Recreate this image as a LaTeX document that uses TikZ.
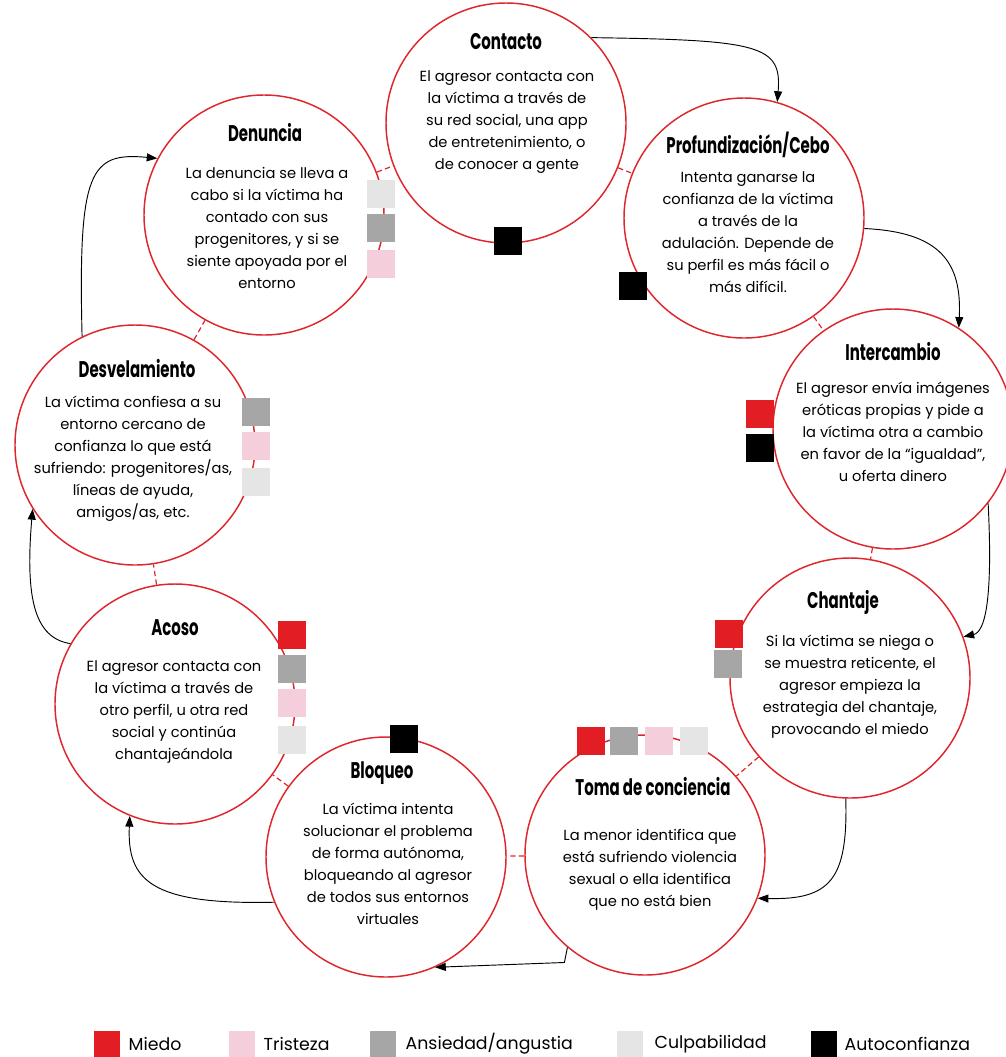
\documentclass[tikz,border=0pt]{standalone}
\usepackage{fontspec}
\setmainfont{Poppins}
\newfontfamily\titlefont{Poppins}[FakeStretch=0.66]
\usetikzlibrary{arrows.meta,positioning}
\definecolor{ringred}{RGB}{222,38,44}
\definecolor{cmiedo}{RGB}{226,30,36}
\definecolor{ctristeza}{RGB}{245,206,220}
\definecolor{cansiedad}{RGB}{166,166,166}
\definecolor{cculpa}{RGB}{229,229,229}
\definecolor{cauto}{RGB}{0,0,0}

\begin{document}
\begin{tikzpicture}[x=0.75pt, y=-0.75pt,
  stage/.style={circle, draw=ringred, line width=1.1pt, fill=white, minimum size=180pt, inner sep=0pt},
  title/.style={font=\titlefont\bfseries\fontsize{17}{20}\selectfont},
  body/.style={align=center, font=\fontsize{11}{16.5}\selectfont},
  emo/.style={minimum size=21pt, inner sep=0pt},
  miedo/.style={emo, fill=cmiedo},
  tristeza/.style={emo, fill=ctristeza},
  ansiedad/.style={emo, fill=cansiedad},
  culpa/.style={emo, fill=cculpa},
  auto/.style={emo, fill=cauto},
  link/.style={draw=ringred, line width=0.9pt, dash pattern=on 4pt off 2.5pt},
  flow/.style={draw=black, line width=0.7pt, -{Triangle[length=8pt,width=6pt]}},
  legsq/.style={minimum size=19pt, inner sep=0pt},
  legtxt/.style={anchor=west, font=\fontsize{13}{15}\selectfont}]
  \useasboundingbox (0,0) rectangle (1006,1057);

  % stages
  \node[stage] (contacto) at (506,123) {};
  \node[stage] (cebo) at (744,218) {};
  \node[stage] (inter) at (893,429) {};
  \node[stage] (chantaje) at (850,678) {};
  \node[stage] (toma) at (645,855) {};
  \node[stage] (bloqueo) at (386,857) {};
  \node[stage] (acoso) at (175,704) {};
  \node[stage] (desvel) at (135,445) {};
  \node[stage] (denuncia) at (264,215) {};

  % dashed links
  \draw[link] (contacto) -- (cebo);
  \draw[link] (cebo) -- (inter);
  \draw[link] (inter) -- (chantaje);
  \draw[link] (chantaje) -- (toma);
  \draw[link] (toma) -- (bloqueo);
  \draw[link] (bloqueo) -- (acoso);
  \draw[link] (acoso) -- (desvel);
  \draw[link] (desvel) -- (denuncia);
  \draw[link] (denuncia) -- (contacto);

  % texts
  \node[title] (contacto-t) at (506,42) {Contacto};
  \node[body] (contacto-x) at (507,122) {El agresor contacta con\\la víctima a través de\\su red social, una app\\de entretenimiento, o\\de conocer a gente};
  \node[title] (cebo-t) at (748,145) {Profundización/Cebo};
  \node[body] (cebo-x) at (748,232) {Intenta ganarse la\\confianza de la víctima\\a través de la\\adulación. Depende de\\su perfil es más fácil o\\más difícil.};
  \node[title] (inter-t) at (893,352) {Intercambio};
  \node[body] (inter-x) at (893,432) {El agresor envía imágenes\\eróticas propias y pide a\\la víctima otra a cambio\\en favor de la “igualdad”,\\u oferta dinero};
  \node[title] (chantaje-t) at (843,602) {Chantaje};
  \node[body] (chantaje-x) at (850,687) {Si la víctima se niega o\\se muestra reticente, el\\agresor empieza la\\estrategia del chantaje,\\provocando el miedo};
  \node[title] (toma-t) at (653,787) {Toma de conciencia};
  \node[body] (toma-x) at (650,870) {La menor identifica que\\está sufriendo violencia\\sexual o ella identifica\\que no está bien};
  \node[title] (bloqueo-t) at (382,773) {Bloqueo};
  \node[body] (bloqueo-x) at (388,864) {La víctima intenta\\solucionar el problema\\de forma autónoma,\\bloqueando al agresor\\de todos sus entornos\\virtuales};
  \node[title] (acoso-t) at (175,628) {Acoso};
  \node[body] (acoso-x) at (174,712) {El agresor contacta con\\la víctima a través de\\otro perfil, u otra red\\social y continúa\\chantajeándola};
  \node[title] (desvel-t) at (137,369) {Desvelamiento};
  \node[body] (desvel-x) at (133,459) {La víctima confiesa a su\\entorno cercano de\\confianza lo que está\\sufriendo: progenitores/as,\\líneas de ayuda,\\amigos/as, etc.};
  \node[title] (denuncia-t) at (265,133) {Denuncia};
  \node[body] (denuncia-x) at (267,228) {La denuncia se lleva a\\cabo si la víctima ha\\contado con sus\\progenitores, y si se\\siente apoyada por el\\entorno};

  % emotions
  \node[auto] (contacto-e1) at (508,241) {};
  \node[auto] (cebo-e1) at (633,286) {};
  \node[miedo] (inter-e1) at (760,414) {};
  \node[auto] (inter-e2) at (760,448) {};
  \node[miedo] (chantaje-e1) at (729,634) {};
  \node[ansiedad] (chantaje-e2) at (728,664) {};
  \node[miedo] (toma-e1) at (591,741) {};
  \node[ansiedad] (toma-e2) at (624,741) {};
  \node[tristeza] (toma-e3) at (659,741) {};
  \node[culpa] (toma-e4) at (694,741) {};
  \node[auto] (bloqueo-e1) at (404,739) {};
  \node[miedo] (acoso-e1) at (292,635) {};
  \node[ansiedad] (acoso-e2) at (292,669) {};
  \node[tristeza] (acoso-e3) at (292,703) {};
  \node[culpa] (acoso-e4) at (292,740) {};
  \node[ansiedad] (desvel-e1) at (256,412) {};
  \node[tristeza] (desvel-e2) at (256,446) {};
  \node[culpa] (desvel-e3) at (256,482) {};
  \node[culpa] (denuncia-e1) at (381,194) {};
  \node[ansiedad] (denuncia-e2) at (381,228) {};
  \node[tristeza] (denuncia-e3) at (381,264) {};

  % cycle arrows
  \draw[flow] (contacto.45) .. controls (760,40) and (782,45) .. (cebo.74);
  \draw[flow] (cebo.-5) .. controls (940,232) and (962,262) .. (inter.57);
  \draw[flow] (inter.-38) .. controls (993,600) and (985,632) .. (chantaje.20);
  \draw[flow] (chantaje.-92) .. controls (848,880) and (830,900) .. (toma.-21);
  \draw[flow] (toma.-130) -- ++(-3,15) -- (bloqueo.-66);
  \draw[flow] (bloqueo.-158) .. controls (150,905) and (127,880) .. (acoso.-112);
  \draw[flow] (acoso.150) .. controls (35,638) and (25,600) .. (desvel.-148);
  \draw[flow] (desvel.116) .. controls (78,170) and (90,152) .. (denuncia.152);

  % legend
  \node[legsq, fill=cmiedo] (leg1) at (107,1044) {};
  \node[legtxt] (leg1-t) at (124,1044) {Miedo};
  \node[legsq, fill=ctristeza] (leg2) at (242,1044) {};
  \node[legtxt] (leg2-t) at (259,1044) {Tristeza};
  \node[legsq, fill=cansiedad] (leg3) at (383,1044) {};
  \node[legtxt] (leg3-t) at (401,1044) {Ansiedad/angustia};
  \node[legsq, fill=cculpa] (leg4) at (630,1044) {};
  \node[legtxt] (leg4-t) at (650,1044) {Culpabilidad};
  \node[legsq, fill=cauto] (leg5) at (824,1044) {};
  \node[legtxt] (leg5-t) at (840,1044) {Autoconfianza};
\end{tikzpicture}
\end{document}
